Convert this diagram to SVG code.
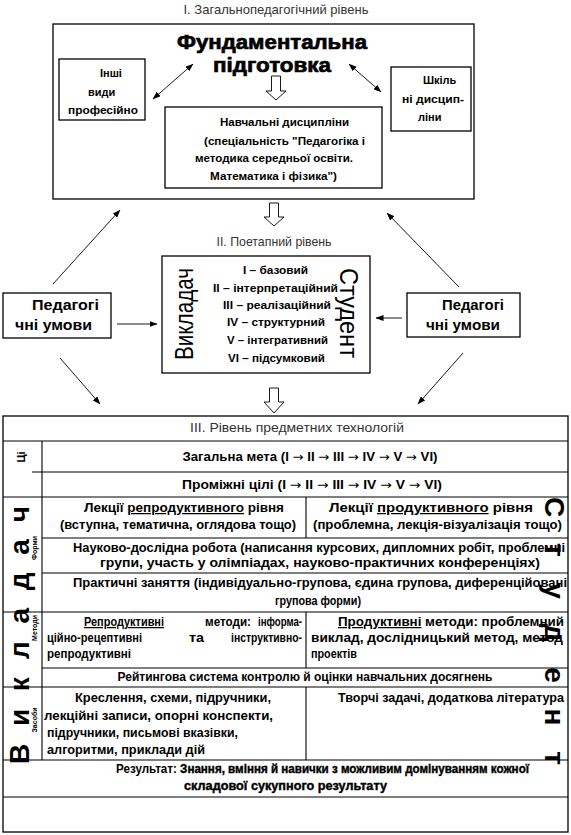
<svg xmlns="http://www.w3.org/2000/svg" width="571" height="835" viewBox="0 0 571 835">
<defs>
<style>
text{font-family:"Liberation Sans",Arial,sans-serif;font-weight:bold;fill:#000}
.hd{font-weight:normal;font-size:13px;fill:#333}
.s11{font-size:11px}
.s12{font-size:12.5px}
.big{font-size:21px;stroke:#000;stroke-width:0.7}
.pu{font-size:14px}
.box{fill:#fff;stroke:#000;stroke-width:1.3}
.ln{stroke:#000;stroke-width:1.1;fill:none}
.con{stroke:#000;stroke-width:0.9;fill:none}
.hol{fill:#fff;stroke:#000;stroke-width:0.9}
.u{text-decoration:underline}
.rot{font-weight:normal;font-size:26px}
.vbig{font-size:28px}
.sm{font-size:7px}
.ar{font-family:"DejaVu Sans",sans-serif;font-weight:normal}
.hv{stroke:#000;stroke-width:0.4}
</style>
<marker id="ah" markerWidth="8" markerHeight="6" refX="7.5" refY="3" orient="auto-start-reverse" markerUnits="userSpaceOnUse"><path d="M0,0 L8,3 L0,6 z" fill="#000"/></marker>
</defs>
<rect width="571" height="835" fill="#fff"/>

<text class="hd" x="276" y="14" text-anchor="middle" textLength="185" lengthAdjust="spacingAndGlyphs">І. Загальнопедагогічний рівень</text>

<g id="level1">
<rect class="box" x="53" y="24" width="421" height="175"/>
<text class="big" x="272" y="49" text-anchor="middle" textLength="190" lengthAdjust="spacingAndGlyphs">Фундаментальна</text>
<text class="big" x="272" y="72" text-anchor="middle" textLength="118" lengthAdjust="spacingAndGlyphs">підготовка</text>
</g>

<g id="other">
<rect class="box" x="59" y="59" width="86" height="61"/>
<text class="s11" x="100" y="77">Інші</text>
<text class="s11" x="88" y="96">види</text>
<text class="s11" x="68" y="114" textLength="70" lengthAdjust="spacingAndGlyphs">професійно</text>
</g>

<g id="school">
<rect class="box" x="391" y="67" width="80" height="64"/>
<text class="s11" x="423" y="84">Шкіль</text>
<text class="s11" x="402" y="103" textLength="62" lengthAdjust="spacingAndGlyphs">ні дисцип-</text>
<text class="s11" x="418" y="121">ліни</text>
</g>

<g id="disciplines">
<rect class="box" x="165" y="107" width="217" height="81"/>
<text class="s11" x="220" y="126" textLength="129" lengthAdjust="spacingAndGlyphs">Навчальні дисципліни</text>
<text class="s11" x="204" y="145" textLength="161" lengthAdjust="spacingAndGlyphs">(спеціальність "Педагогіка і</text>
<text class="s11" x="195" y="162" textLength="158" lengthAdjust="spacingAndGlyphs">методика середньої освіти.</text>
<text class="s11" x="210" y="180" textLength="127" lengthAdjust="spacingAndGlyphs">Математика і фізика")</text>
</g>

<text class="hd" x="274" y="246" text-anchor="middle" textLength="115" lengthAdjust="spacingAndGlyphs">ІІ. Поетапний рівень</text>

<g id="level2">
<rect class="box" x="162" y="256" width="208" height="117"/>
<text class="rot" transform="translate(193,314) rotate(-90)" text-anchor="middle" textLength="92" lengthAdjust="spacingAndGlyphs">Викладач</text>
<text class="rot" transform="translate(340,313) rotate(90)" text-anchor="middle" textLength="90" lengthAdjust="spacingAndGlyphs">Студент</text>
<text class="s11" x="243" y="274" textLength="65" lengthAdjust="spacingAndGlyphs">I – базовий</text>
<text class="s11" x="213" y="292" textLength="125" lengthAdjust="spacingAndGlyphs">II – інтерпретаційний</text>
<text class="s11" x="223" y="309" textLength="108" lengthAdjust="spacingAndGlyphs">III – реалізаційний</text>
<text class="s11" x="227" y="326" textLength="98" lengthAdjust="spacingAndGlyphs">IV – структурний</text>
<text class="s11" x="227" y="344" textLength="101" lengthAdjust="spacingAndGlyphs">V – інтегративний</text>
<text class="s11" x="228" y="362" textLength="97" lengthAdjust="spacingAndGlyphs">VI – підсумковий</text>
</g>

<g id="cond-left">
<rect class="box" x="3" y="293" width="108" height="45"/>
<text class="pu" x="32" y="310" textLength="67" lengthAdjust="spacingAndGlyphs">Педагогі</text>
<text class="pu" x="15" y="330" textLength="77" lengthAdjust="spacingAndGlyphs">чні умови</text>
</g>

<g id="cond-right">
<rect class="box" x="407" y="293" width="113" height="44"/>
<text class="pu" x="442" y="310" textLength="62" lengthAdjust="spacingAndGlyphs">Педагогі</text>
<text class="pu" x="426" y="330" textLength="74" lengthAdjust="spacingAndGlyphs">чні умови</text>
</g>

<g id="connectors">
<path class="hol" d="M271.5,76 H280.5 V91 H286 L276,100 L266,91 H271.5 Z"/>
<path class="hol" d="M269.5,203 H278.5 V217 H284 L274,226 L264,217 H269.5 Z"/>
<path class="hol" d="M269.5,388 H278.5 V402 H284 L274,413 L264,402 H269.5 Z"/>
<line class="con" x1="153" y1="99" x2="193" y2="64" marker-start="url(#ah)" marker-end="url(#ah)"/>
<line class="con" x1="349" y1="64" x2="381" y2="92" marker-start="url(#ah)" marker-end="url(#ah)"/>
<line class="con" x1="53" y1="284" x2="120" y2="210" marker-end="url(#ah)"/>
<line class="con" x1="459" y1="287" x2="387" y2="213" marker-end="url(#ah)"/>
<line class="con" x1="60" y1="358" x2="100" y2="404" marker-end="url(#ah)"/>
<line class="con" x1="463" y1="353" x2="418" y2="404" marker-end="url(#ah)"/>
<line class="con" x1="117" y1="324" x2="157" y2="324" marker-end="url(#ah)"/>
<line class="con" x1="402" y1="318" x2="376" y2="318" marker-end="url(#ah)"/>
</g>

<g id="level3">
<rect x="3" y="416" width="565" height="416" fill="#fff" stroke="#000" stroke-width="1.3"/>
<path class="ln" d="M3,441 H568 M42,441 V760 M32,472 H568 M3,497 H568 M42,538 H568 M42,573 H568 M3,612 H568 M42,668 H568 M3,687 H568 M3,760 H568 M3,797 H568 M306,497 V538 M306,612 V668 M306,687 V760"/>
<text class="hd" x="297" y="432" text-anchor="middle" textLength="214" lengthAdjust="spacingAndGlyphs">ІІІ. Рівень предметних технологій</text>
<text class="s12" x="310" y="461" text-anchor="middle" textLength="255" lengthAdjust="spacingAndGlyphs">Загальна мета (I <tspan class="ar">→</tspan> II <tspan class="ar">→</tspan> III <tspan class="ar">→</tspan> IV <tspan class="ar">→</tspan> V <tspan class="ar">→</tspan> VI)</text>
<text class="s12" x="312" y="489" text-anchor="middle" textLength="260" lengthAdjust="spacingAndGlyphs">Проміжні цілі (I <tspan class="ar">→</tspan> II <tspan class="ar">→</tspan> III <tspan class="ar">→</tspan> IV <tspan class="ar">→</tspan> V <tspan class="ar">→</tspan> VI)</text>
<text class="s12" x="84" y="512" textLength="200" lengthAdjust="spacingAndGlyphs">Лекції <tspan class="u">репродуктивного</tspan> рівня</text>
<text class="s12" x="60" y="529" textLength="236" lengthAdjust="spacingAndGlyphs">(вступна, тематична, оглядова тощо)</text>
<text class="s12" x="329" y="512" textLength="204" lengthAdjust="spacingAndGlyphs">Лекції <tspan class="u">продуктивного</tspan> рівня</text>
<text class="s12" x="313" y="529" textLength="249" lengthAdjust="spacingAndGlyphs">(проблемна, лекція-візуалізація тощо)</text>
<text class="s12" x="73" y="552" textLength="492" lengthAdjust="spacingAndGlyphs">Науково-дослідна робота (написання курсових, дипломних робіт, проблемні</text>
<text class="s12" x="100" y="567" textLength="440" lengthAdjust="spacingAndGlyphs">групи, участь у олімпіадах, науково-практичних конференціях)</text>
<text class="s12" x="73" y="587" textLength="494" lengthAdjust="spacingAndGlyphs">Практичні заняття (індивідуально-групова, єдина групова, диференційовані</text>
<text class="s12" x="318" y="605" text-anchor="middle" textLength="86" lengthAdjust="spacingAndGlyphs">групова форми)</text>
<text class="s12 u" x="84" y="626" textLength="80" lengthAdjust="spacingAndGlyphs">Репродуктивні</text>
<text class="s12" x="205" y="626" textLength="46" lengthAdjust="spacingAndGlyphs">методи:</text>
<text class="s12" x="258" y="626" textLength="44" lengthAdjust="spacingAndGlyphs">інформа-</text>
<text class="s12" x="47" y="642" textLength="95" lengthAdjust="spacingAndGlyphs">ційно-рецептивні</text>
<text class="s12" x="189" y="642" textLength="15" lengthAdjust="spacingAndGlyphs">та</text>
<text class="s12" x="231" y="642" textLength="71" lengthAdjust="spacingAndGlyphs">інструктивно-</text>
<text class="s12" x="47" y="658" textLength="84" lengthAdjust="spacingAndGlyphs">репродуктивні</text>
<text class="s12" x="338" y="626" textLength="226" lengthAdjust="spacingAndGlyphs"><tspan class="u">Продуктивні</tspan> методи: проблемний</text>
<text class="s12" x="311" y="642" textLength="252" lengthAdjust="spacingAndGlyphs">виклад, дослідницький метод, метод</text>
<text class="s12" x="311" y="658" textLength="46" lengthAdjust="spacingAndGlyphs">проектів</text>
<text class="s12" x="305" y="681" text-anchor="middle" textLength="375" lengthAdjust="spacingAndGlyphs">Рейтингова система контролю й оцінки навчальних досягнень</text>
<text class="s12" x="75" y="702" textLength="196" lengthAdjust="spacingAndGlyphs">Креслення, схеми, підручники,</text>
<text class="s12" x="44" y="720" textLength="229" lengthAdjust="spacingAndGlyphs">лекційні записи, опорні конспекти,</text>
<text class="s12" x="47" y="737" textLength="191" lengthAdjust="spacingAndGlyphs">підручники, письмові вказівки,</text>
<text class="s12" x="47" y="754" textLength="158" lengthAdjust="spacingAndGlyphs">алгоритми, приклади дій</text>
<text class="s12" x="338" y="702" textLength="226" lengthAdjust="spacingAndGlyphs">Творчі задачі, додаткова література</text>
<text class="s12" x="116" y="773" textLength="413" lengthAdjust="spacingAndGlyphs">Результат: <tspan class="hv">Знання, вміння й навички з можливим домінуванням кожної</tspan></text>
<text class="s12 hv" x="184" y="790" textLength="203" lengthAdjust="spacingAndGlyphs">складової сукупного результату</text>
<text style="font-size:11px" transform="translate(25,457) rotate(-90)" text-anchor="middle">Ці</text>
<text class="sm" transform="translate(37,548) rotate(-90)" text-anchor="middle">Форми</text>
<text class="sm" transform="translate(37,628) rotate(-90)" text-anchor="middle">Методи</text>
<text class="sm" transform="translate(37,720) rotate(-90)" text-anchor="middle">Засоби</text>
<text class="vbig" transform="translate(29,635) rotate(-90)" text-anchor="middle" textLength="258" lengthAdjust="spacing">Викладач</text>
<text class="vbig" transform="translate(545,631) rotate(90)" text-anchor="middle" textLength="268" lengthAdjust="spacing">Студент</text>
</g>
</svg>
